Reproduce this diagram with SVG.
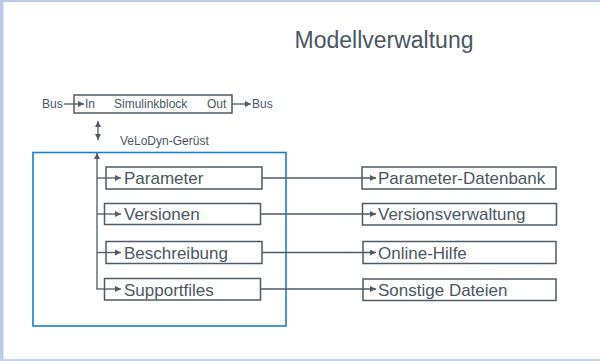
<svg xmlns="http://www.w3.org/2000/svg" width="600" height="361" viewBox="0 0 600 361">
<style>
.t{font-family:"Liberation Sans",Arial,sans-serif;fill:#4a5663}
.s{font-size:12px}
.m{font-size:17px}
.box{fill:none;stroke:#4f5b66;stroke-width:1.5}
.ln{fill:none;stroke:#4f5b66;stroke-width:1.3}
</style>
<defs>
<marker id="ah" viewBox="0 0 6 6" refX="6" refY="3" markerWidth="6" markerHeight="6" markerUnits="userSpaceOnUse" orient="auto-start-reverse">
<path d="M0,0 L6,3 L0,6 Z" fill="#4f5b66"/>
</marker>
</defs>
<rect x="0" y="0" width="600" height="361" fill="#ffffff"/>
<rect x="0" y="0" width="600" height="2" fill="#b9cbe9"/>
<rect x="0" y="0" width="3.5" height="361" fill="#b9cbe9"/>
<rect x="0" y="359" width="600" height="2" fill="#c6d5ee"/>
<text class="t" x="384" y="47.5" font-size="23" text-anchor="middle">Modellverwaltung</text>

<g id="simulinkblock">
<rect class="box" x="74" y="95" width="158" height="18"/>
<text class="t s" x="42" y="108">Bus</text>
<text class="t s" x="85" y="108">In</text>
<text class="t s" x="114" y="108">Simulinkblock</text>
<text class="t s" x="207" y="108">Out</text>
<text class="t s" x="252" y="108">Bus</text>
</g>
<g id="geruest">
<rect x="33" y="152.5" width="253" height="173.5" fill="none" stroke="#1b7fc9" stroke-width="1.6"/>
<text class="t s" x="120" y="145">VeLoDyn-Gerüst</text>
</g>
<g id="parameter"><rect class="box" x="106" y="167" width="156" height="22"/><text class="t m" x="124" y="184">Parameter</text></g>
<g id="versionen"><rect class="box" x="104.5" y="203.5" width="156" height="21"/><text class="t m" x="124" y="220">Versionen</text></g>
<g id="beschreibung"><rect class="box" x="106" y="241.5" width="156" height="22"/><text class="t m" x="124" y="258.5">Beschreibung</text></g>
<g id="supportfiles"><rect class="box" x="104.5" y="278.5" width="156" height="21.5"/><text class="t m" x="124" y="295.5">Supportfiles</text></g>
<g id="parameter-datenbank"><rect class="box" x="362" y="167" width="194" height="22"/><text class="t m" x="378" y="184">Parameter-Datenbank</text></g>
<g id="versionsverwaltung"><rect class="box" x="362.5" y="203.5" width="194" height="21.5"/><text class="t m" x="378" y="220">Versionsverwaltung</text></g>
<g id="online-hilfe"><rect class="box" x="363" y="241.5" width="193" height="22"/><text class="t m" x="378" y="258.5">Online-Hilfe</text></g>
<g id="sonstige-dateien"><rect class="box" x="363" y="279" width="193" height="21.5"/><text class="t m" x="378" y="295.5">Sonstige Dateien</text></g>

<g id="connectors">
<line class="ln" x1="64" y1="104" x2="84" y2="104" marker-end="url(#ah)"/>
<line class="ln" x1="232" y1="104" x2="251" y2="104" marker-end="url(#ah)"/>
<line class="ln" x1="98" y1="121" x2="98" y2="140" marker-start="url(#ah)" marker-end="url(#ah)"/>
<path class="ln" d="M97,289 L97,153" marker-end="url(#ah)"/>
<line class="ln" x1="97" y1="178" x2="121" y2="178" marker-end="url(#ah)"/>
<line class="ln" x1="97" y1="214" x2="121" y2="214" marker-end="url(#ah)"/>
<line class="ln" x1="97" y1="252.5" x2="121" y2="252.5" marker-end="url(#ah)"/>
<line class="ln" x1="96.4" y1="289" x2="121" y2="289" marker-end="url(#ah)"/>
<line class="ln" x1="262" y1="178" x2="376" y2="178" marker-end="url(#ah)"/>
<line class="ln" x1="260.5" y1="214" x2="376" y2="214" marker-end="url(#ah)"/>
<line class="ln" x1="262" y1="252.5" x2="376" y2="252.5" marker-end="url(#ah)"/>
<line class="ln" x1="260.5" y1="289" x2="376" y2="289" marker-end="url(#ah)"/>
</g>
</svg>
